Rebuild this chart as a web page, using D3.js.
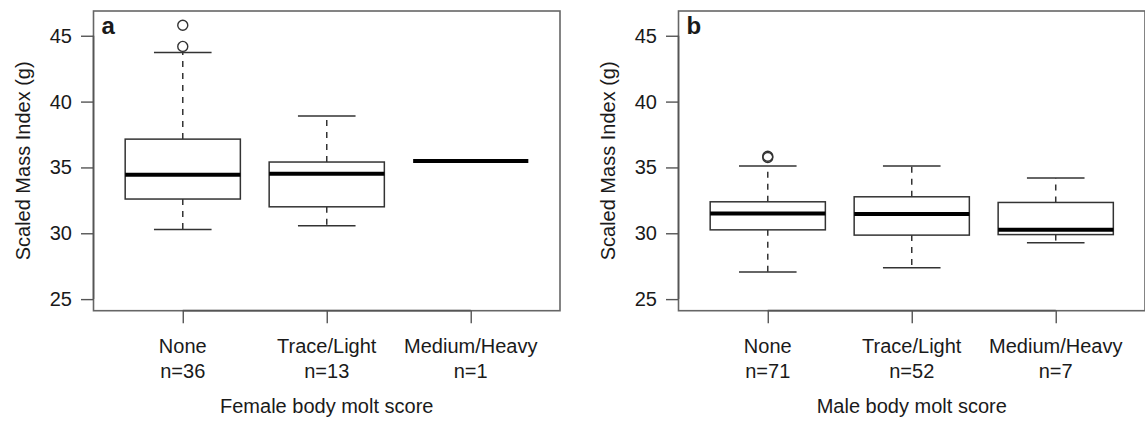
<!DOCTYPE html>
<html>
<head>
<meta charset="utf-8">
<script src="https://cdn.jsdelivr.net/npm/d3@7"></script>
<style>
  body { margin: 0; background: #fff; }
  svg text { font-family: "Liberation Sans", Arial, sans-serif; fill: #1a1a1a; }
</style>
</head>
<body>
<svg id="chart" width="1145" height="421"></svg>
<script>
// categories and sample sizes
const categories = ["None", "Trace/Light", "Medium/Heavy"];
const femaleN = [36, 13, 1];
const maleN = [71, 52, 7];

// female box stats (lower whisker, Q1, median, Q3, upper whisker)
const femaleLow = [30.29, 30.57, 35.48];
const femaleQ1 = [32.6, 32.01, 35.48];
const femaleMed = [34.44, 34.52, 35.48];
const femaleQ3 = [37.15, 35.41, 35.48];
const femaleHigh = [43.73, 38.9, 35.48];
const femaleOut = [[45.8, 44.19], [], []];

// male box stats
const maleLow = [27.05, 27.38, 29.28];
const maleQ1 = [30.26, 29.86, 29.9];
const maleMed = [31.5, 31.46, 30.26];
const maleQ3 = [32.39, 32.77, 32.34];
const maleHigh = [35.1, 35.1, 34.19];
const maleOut = [[35.85, 35.75], [], []];

const yTicks = [25, 30, 35, 40, 45];

const svg = d3.select("#chart");

// panel setup
const panels = [
    { label: "a", left: 93.5, title: "Female body molt score", n: femaleN,
      low: femaleLow, q1: femaleQ1, med: femaleMed, q3: femaleQ3, high: femaleHigh, out: femaleOut },
    { label: "b", left: 678.5, title: "Male body molt score", n: maleN,
      low: maleLow, q1: maleQ1, med: maleMed, q3: maleQ3, high: maleHigh, out: maleOut }
];

const plotW = 466.5;
const plotTop = 11, plotBottom = 310.7;
const fontSize = 20;

const y = d3.scaleLinear()
    .domain([24.12, 46.88])
    .range([plotBottom, plotTop]);

panels.forEach(p => {
    const x = d3.scaleLinear()
        .domain([0.38, 3.62])
        .range([p.left, p.left + plotW]);

    const g = svg.append("g");

    // 프레임
    g.append("rect")
        .attr("x", p.left).attr("y", plotTop)
        .attr("width", plotW).attr("height", plotBottom - plotTop)
        .attr("fill", "none")
        .attr("stroke", "#666")
        .attr("stroke-width", 1.6);

    // y축
    const yAxis = g.append("g")
        .attr("transform", `translate(${p.left},0)`)
        .call(d3.axisLeft(y).tickValues(yTicks).tickSize(12.5).tickPadding(9));
    yAxis.select(".domain").remove();
    yAxis.selectAll(".tick line").attr("stroke", "#555").attr("stroke-width", 1.4);
    yAxis.selectAll("text").attr("font-size", fontSize).attr("fill", "#1a1a1a");
    g.append("line")
        .attr("x1", p.left).attr("x2", p.left)
        .attr("y1", y(25)).attr("y2", y(45))
        .attr("stroke", "#555").attr("stroke-width", 1.6);

    // x축
    const xAxis = g.append("g")
        .attr("transform", `translate(0,${plotBottom})`)
        .call(d3.axisBottom(x).tickValues([1, 2, 3]).tickSize(12.6).tickFormat(""));
    xAxis.select(".domain").remove();
    xAxis.selectAll(".tick line").attr("stroke", "#555").attr("stroke-width", 1.4);
    g.append("line")
        .attr("x1", x(1)).attr("x2", x(3))
        .attr("y1", plotBottom).attr("y2", plotBottom)
        .attr("stroke", "#555").attr("stroke-width", 1.8);

    categories.forEach((c, i) => {
        g.append("text")
            .attr("x", x(i + 1)).attr("y", 353.3)
            .attr("text-anchor", "middle")
            .attr("font-size", fontSize)
            .text(c);
        g.append("text")
            .attr("x", x(i + 1)).attr("y", 378.3)
            .attr("text-anchor", "middle")
            .attr("font-size", fontSize)
            .text("n=" + p.n[i]);
    });

    // x축 제목
    g.append("text")
        .attr("x", p.left + plotW / 2).attr("y", 412.5)
        .attr("text-anchor", "middle")
        .attr("font-size", fontSize)
        .text(p.title);

    // y축 제목
    g.append("text")
        .attr("transform", `translate(${p.left - 71},${(plotTop + plotBottom) / 2}) rotate(-90)`)
        .attr("text-anchor", "middle")
        .attr("dominant-baseline", "central")
        .attr("font-size", fontSize)
        .text("Scaled Mass Index (g)");

    // 패널 라벨
    g.append("text")
        .attr("x", p.left + 8).attr("y", 33.5)
        .attr("font-size", 24)
        .attr("font-weight", "bold")
        .attr("fill", "#000")
        .text(p.label);

    // 박스플롯
    categories.forEach((c, i) => {
        const cx = x(i + 1);
        const bw = x(1.4) - x(1);   // half box width
        const sw = x(1.2) - x(1);   // half staple width

        // whiskers (dashed)
        g.append("line")
            .attr("x1", cx).attr("x2", cx)
            .attr("y1", y(p.q3[i])).attr("y2", y(p.high[i]))
            .attr("stroke", "#333").attr("stroke-width", 1.5)
            .attr("stroke-dasharray", "6,6");
        g.append("line")
            .attr("x1", cx).attr("x2", cx)
            .attr("y1", y(p.q1[i])).attr("y2", y(p.low[i]))
            .attr("stroke", "#333").attr("stroke-width", 1.5)
            .attr("stroke-dasharray", "6,6");

        // staples
        [p.high[i], p.low[i]].forEach(v => {
            g.append("line")
                .attr("x1", cx - sw).attr("x2", cx + sw)
                .attr("y1", y(v)).attr("y2", y(v))
                .attr("stroke", "#333").attr("stroke-width", 1.5);
        });

        // box
        g.append("rect")
            .attr("x", cx - bw).attr("y", y(p.q3[i]))
            .attr("width", 2 * bw)
            .attr("height", y(p.q1[i]) - y(p.q3[i]))
            .attr("fill", "#fff")
            .attr("stroke", "#333").attr("stroke-width", 1.5);

        // median
        g.append("line")
            .attr("x1", cx - bw).attr("x2", cx + bw)
            .attr("y1", y(p.med[i])).attr("y2", y(p.med[i]))
            .attr("stroke", "#000").attr("stroke-width", 4);

        // outliers
        p.out[i].forEach(v => {
            g.append("circle")
                .attr("cx", cx).attr("cy", y(v))
                .attr("r", 5)
                .attr("fill", "none")
                .attr("stroke", "#333").attr("stroke-width", 1.4);
        });
    });
});
</script>
</body>
</html>
